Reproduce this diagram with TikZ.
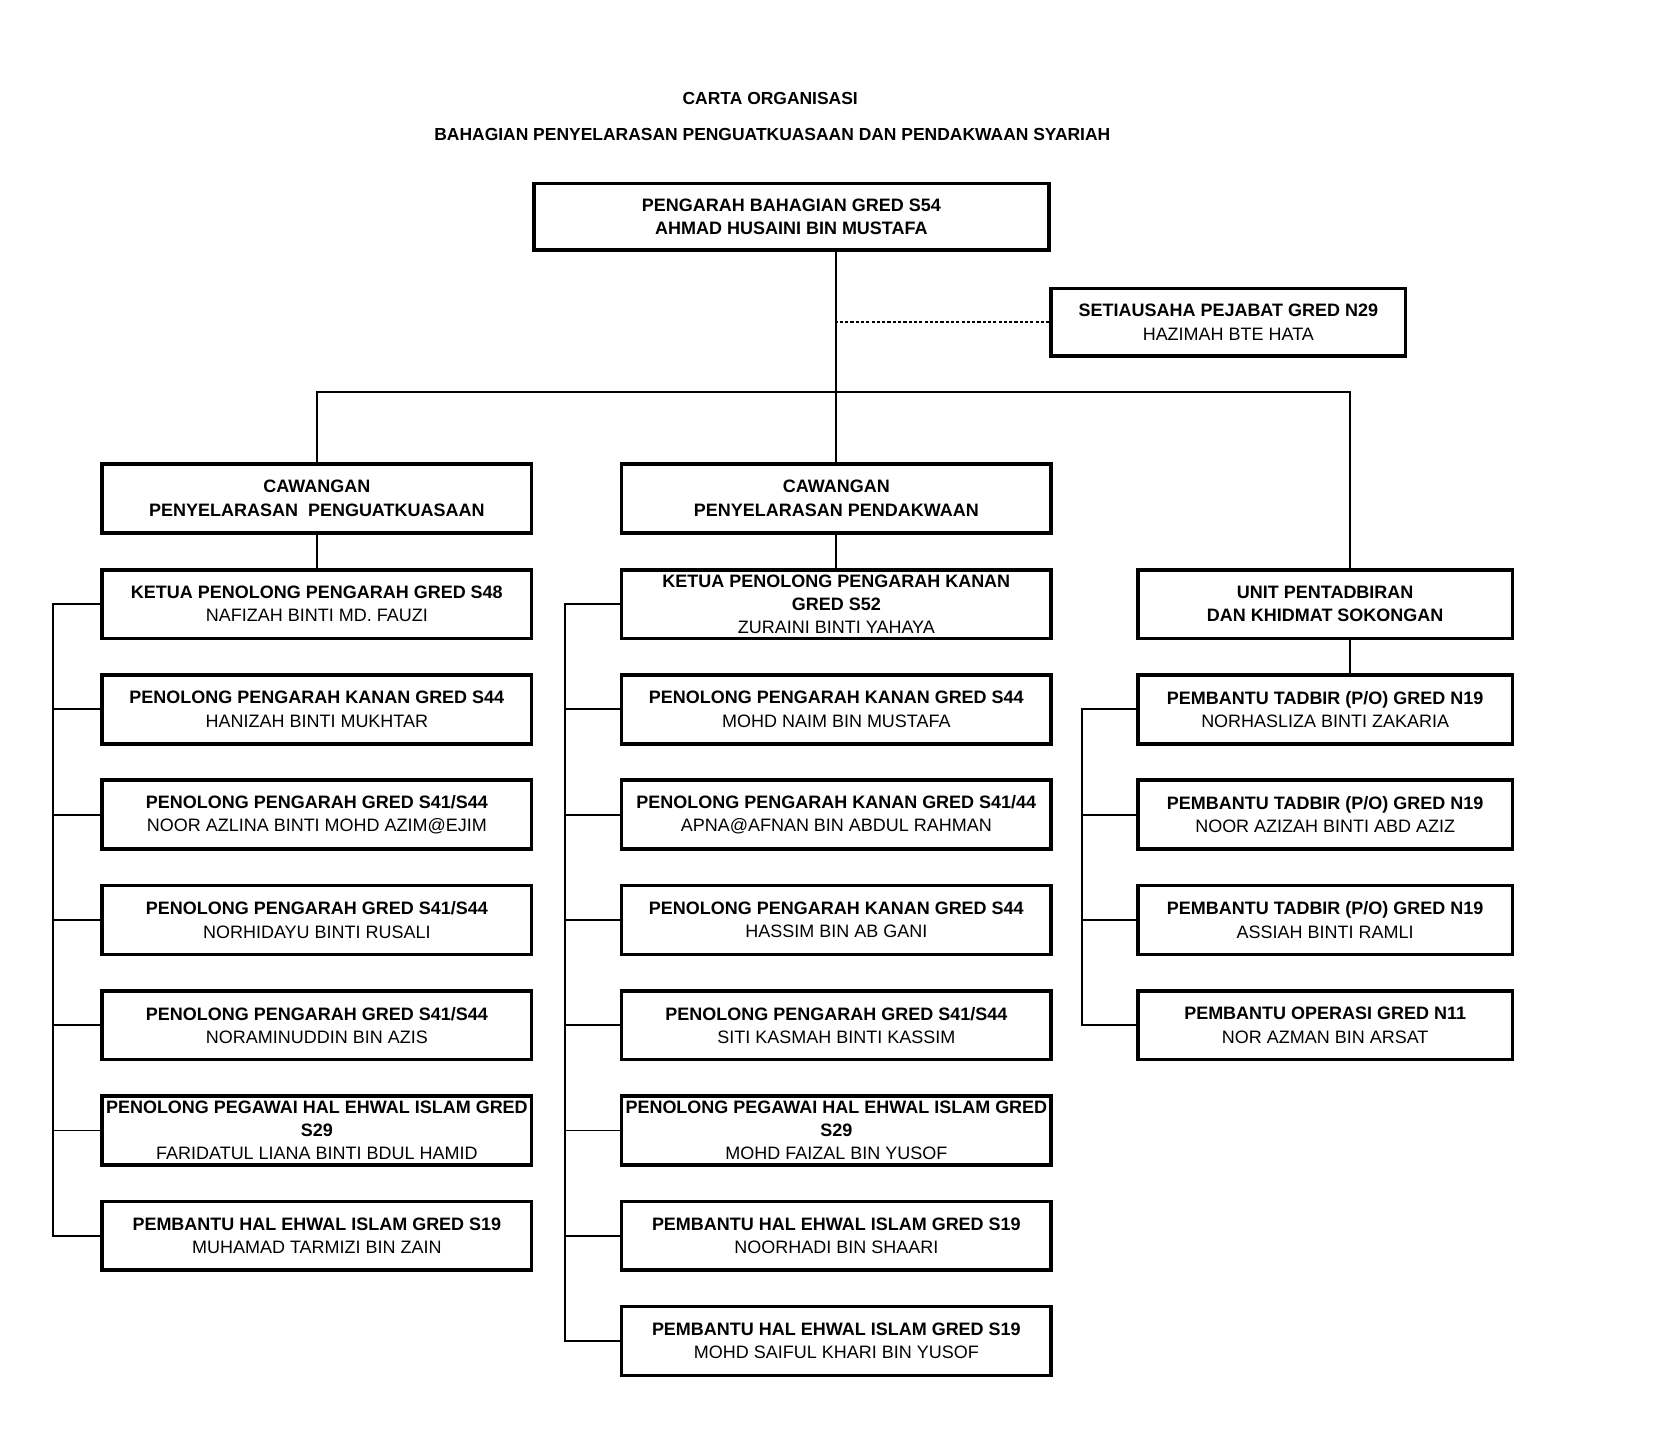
\documentclass[tikz,border=0pt]{standalone}
\usepackage{fontspec}
\setmainfont{Liberation Sans}
\begin{document}
\begin{tikzpicture}[x=1pt,y=-1pt,
  box/.style={draw, line width=3.4pt, inner sep=0pt, align=center, font=\fontsize{17}{22}\selectfont},
  colA/.style={box, minimum width=406pt, minimum height=65pt},
  colB/.style={box, minimum width=406pt, minimum height=65pt},
  colC/.style={box, minimum width=354pt, minimum height=65pt},
  conn/.style={line width=1.8pt},
  dashline/.style={line width=1.5pt, dash pattern=on 3pt off 2pt},
  titletext/.style={font=\bfseries\fontsize{16.5}{20}\selectfont}
]
\useasboundingbox (0,0) rectangle (1563.3,1370.5);

% titles
\node[titletext] (t1) at (728,93) {CARTA ORGANISASI};
\node[titletext] (t2) at (730,127) {BAHAGIAN PENYELARASAN PENGUATKUASAAN DAN PENDAKWAAN SYARIAH};

% top
\node[box, minimum width=487pt, minimum height=63pt] (top) at (748,205)
  {\textbf{PENGARAH BAHAGIAN GRED S54}\\\textbf{AHMAD HUSAINI BIN MUSTAFA}};
\node[box, minimum width=335pt, minimum height=64pt] (sec) at (1161,304.5)
  {\textbf{SETIAUSAHA PEJABAT GRED N29}\\HAZIMAH BTE HATA};

% column 1
\node[colA] (cw1) at (299.5,471) {\textbf{CAWANGAN}\\\textbf{PENYELARASAN\ \ PENGUATKUASAAN}};
\node[colA] (a1) at (299.5,571) {\textbf{KETUA PENOLONG PENGARAH GRED S48}\\NAFIZAH BINTI MD. FAUZI};
\node[colA] (a2) at (299.5,670.5) {\textbf{PENOLONG PENGARAH KANAN GRED S44}\\HANIZAH BINTI MUKHTAR};
\node[colA] (a3) at (299.5,770) {\textbf{PENOLONG PENGARAH GRED S41/S44}\\NOOR AZLINA BINTI MOHD AZIM@EJIM};
\node[colA] (a4) at (299.5,869.5) {\textbf{PENOLONG PENGARAH GRED S41/S44}\\NORHIDAYU BINTI RUSALI};
\node[colA] (a5) at (299.5,969) {\textbf{PENOLONG PENGARAH GRED S41/S44}\\NORAMINUDDIN BIN AZIS};
\node[colA] (a6) at (299.5,1068.5) {\textbf{PENOLONG PEGAWAI HAL EHWAL ISLAM GRED}\\\textbf{S29}\\FARIDATUL LIANA BINTI BDUL HAMID};
\node[colA] (a7) at (299.5,1168) {\textbf{PEMBANTU HAL EHWAL ISLAM GRED S19}\\MUHAMAD TARMIZI BIN ZAIN};

% column 2
\node[colB] (cw2) at (790.5,471) {\textbf{CAWANGAN}\\\textbf{PENYELARASAN PENDAKWAAN}};
\node[colB] (b1) at (790.5,571) {\textbf{KETUA PENOLONG PENGARAH KANAN}\\\textbf{GRED S52}\\ZURAINI BINTI YAHAYA};
\node[colB] (b2) at (790.5,670.5) {\textbf{PENOLONG PENGARAH KANAN GRED S44}\\MOHD NAIM BIN MUSTAFA};
\node[colB] (b3) at (790.5,770) {\textbf{PENOLONG PENGARAH KANAN GRED S41/44}\\APNA@AFNAN BIN ABDUL RAHMAN};
\node[colB] (b4) at (790.5,869.5) {\textbf{PENOLONG PENGARAH KANAN GRED S44}\\HASSIM BIN AB GANI};
\node[colB] (b5) at (790.5,969) {\textbf{PENOLONG PENGARAH GRED S41/S44}\\SITI KASMAH BINTI KASSIM};
\node[colB] (b6) at (790.5,1068.5) {\textbf{PENOLONG PEGAWAI HAL EHWAL ISLAM GRED}\\\textbf{S29}\\MOHD FAIZAL BIN YUSOF};
\node[colB] (b7) at (790.5,1168) {\textbf{PEMBANTU HAL EHWAL ISLAM GRED S19}\\NOORHADI BIN SHAARI};
\node[colB] (b8) at (790.5,1267.5) {\textbf{PEMBANTU HAL EHWAL ISLAM GRED S19}\\MOHD SAIFUL KHARI BIN YUSOF};

% column 3
\node[colC] (u) at (1252.5,571) {\textbf{UNIT PENTADBIRAN}\\\textbf{DAN KHIDMAT SOKONGAN}};
\node[colC] (c1) at (1252.5,670.5) {\textbf{PEMBANTU TADBIR (P/O) GRED N19}\\NORHASLIZA BINTI ZAKARIA};
\node[colC] (c2) at (1252.5,770) {\textbf{PEMBANTU TADBIR (P/O) GRED N19}\\NOOR AZIZAH BINTI ABD AZIZ};
\node[colC] (c3) at (1252.5,869.5) {\textbf{PEMBANTU TADBIR (P/O) GRED N19}\\ASSIAH BINTI RAMLI};
\node[colC] (c4) at (1252.5,969) {\textbf{PEMBANTU OPERASI GRED N11}\\NOR AZMAN BIN ARSAT};

% helper coordinates
\coordinate (hb) at (0,370.5);
\coordinate (rx) at (1276,0);
\coordinate (busA) at (49.8,0);
\coordinate (busB) at (534,0);
\coordinate (busC) at (1023,0);

% top connectors
\draw[conn] (top.south -| cw2.north) -- (cw2.north);
\draw[dashline] (sec.west) -- (sec.west -| cw2.north);
\draw[conn] (cw1.north) -- (cw1.north |- hb) -- (hb -| rx) -- (u.north -| rx);

% branch to first items
\draw[conn] (cw1.south) -- (a1.north);
\draw[conn] (cw2.south) -- (b1.north);
\draw[conn] (u.south -| rx) -- (c1.north -| rx);

% column buses
\draw[conn] (a1.west) -- (a1.west -| busA) -- (a7.west -| busA) -- (a7.west);
\foreach \n in {a2,a3,a4,a5,a6} \draw[conn] (\n.west) -- (\n.west -| busA);
\draw[conn] (b1.west) -- (b1.west -| busB) -- (b8.west -| busB) -- (b8.west);
\foreach \n in {b2,b3,b4,b5,b6,b7} \draw[conn] (\n.west) -- (\n.west -| busB);
\draw[conn] (c1.west) -- (c1.west -| busC) -- (c4.west -| busC) -- (c4.west);
\foreach \n in {c2,c3} \draw[conn] (\n.west) -- (\n.west -| busC);
\end{tikzpicture}
\end{document}
